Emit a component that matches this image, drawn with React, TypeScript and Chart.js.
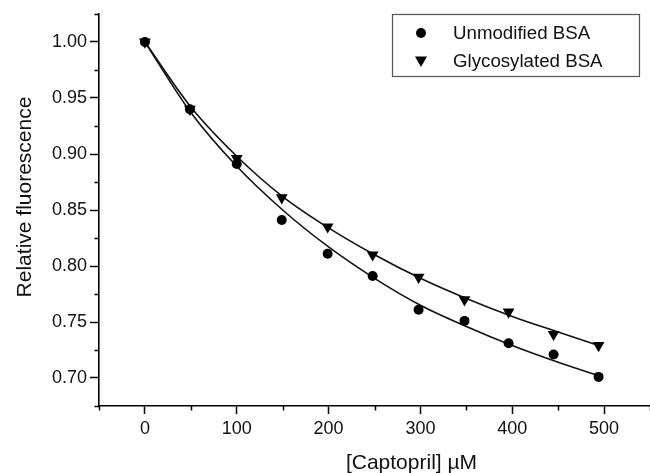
import React, { useEffect, useRef } from 'react';
import { Chart, registerables } from 'chart.js';

Chart.register(...registerables);

// ---- data ----
const seriesLabels = ['Unmodified BSA', 'Glycosylated BSA'];
const captoprilConc = [0, 49, 100, 149, 199, 248, 298, 348, 396, 445, 494];
const fluorUnmodified = [1.0, 0.94, 0.891, 0.841, 0.811, 0.791, 0.761, 0.751, 0.731, 0.721, 0.701];
const fluorGlycosylated = [1.0, 0.94, 0.896, 0.861, 0.835, 0.81, 0.79, 0.77, 0.759, 0.739, 0.729];
// fitted curves
const fitConc = [0, 50, 100, 150, 200, 250, 300, 350, 400, 450, 494];
const fitUnmodified = [1.0, 0.937, 0.889, 0.85, 0.817, 0.789, 0.765, 0.746, 0.729, 0.714, 0.702];
const fitGlycosylated = [1.0, 0.942, 0.898, 0.862, 0.834, 0.81, 0.789, 0.771, 0.755, 0.741, 0.729];

const xTitle = '[Captopril] µM';
const yTitle = 'Relative fluorescence';
const xMin = -50;
const xMax = 550;
const xStep = 50;
const yMin = 0.675;
const yMax = 1.025;
const yStep = 0.025;

const FONT = "'Liberation Sans', Arial, Helvetica, sans-serif";

const isMajorX = (v: number) => Math.round(v) % 100 === 0;
const isMajorY = (v: number) => Math.round(v * 1000) % 50 === 0;

const decorPlugin = {
  id: 'decor',
  afterDraw(chart: any) {
    const ctx = chart.ctx as CanvasRenderingContext2D;
    const area = chart.chartArea;
    const xs = chart.scales.x;
    const ys = chart.scales.y;
    ctx.save();
    // minor ticks
    ctx.strokeStyle = '#000';
    ctx.lineWidth = 1.5;
    ctx.beginPath();
    xs.ticks.forEach((t: any) => {
      if (!isMajorX(t.value)) {
        const px = Math.round(xs.getPixelForValue(t.value)) + 0.5;
        ctx.moveTo(px, area.bottom);
        ctx.lineTo(px, area.bottom + 4.5);
      }
    });
    ys.ticks.forEach((t: any) => {
      if (!isMajorY(t.value)) {
        const py = Math.round(ys.getPixelForValue(t.value)) + 0.5;
        ctx.moveTo(area.left, py);
        ctx.lineTo(area.left - 4.5, py);
      }
    });
    ctx.stroke();

    // axis titles
    ctx.fillStyle = '#111';
    ctx.font = `21px ${FONT}`;
    ctx.textAlign = 'center';
    ctx.textBaseline = 'middle';
    ctx.fillText(xTitle, (area.left + area.right) / 2 + 37, 463);
    ctx.save();
    ctx.translate(25, (area.top + area.bottom) / 2 - 13);
    ctx.rotate(-Math.PI / 2);
    ctx.fillText(yTitle, 0, 0);
    ctx.restore();

    // legend
    const bx = 392.5, by = 14.5, bw = 247, bh = 62;
    ctx.strokeStyle = '#555';
    ctx.lineWidth = 1.2;
    ctx.strokeRect(bx, by, bw, bh);
    ctx.fillStyle = '#000';
    ctx.beginPath();
    ctx.arc(421, 33, 5, 0, Math.PI * 2);
    ctx.fill();
    ctx.beginPath();
    ctx.moveTo(415, 56.5);
    ctx.lineTo(427, 56.5);
    ctx.lineTo(421, 67);
    ctx.closePath();
    ctx.fill();
    ctx.font = `18.7px ${FONT}`;
    ctx.textAlign = 'left';
    ctx.fillStyle = '#111';
    ctx.fillText(seriesLabels[0], 453, 34);
    ctx.fillText(seriesLabels[1], 453, 62);
    ctx.restore();
  },
};

export default function App() {
  const ref = useRef<HTMLCanvasElement | null>(null);

  useEffect(() => {
    if (!ref.current) return;
    const pts = (xs: number[], ys: number[]) => xs.map((x, i) => ({ x, y: ys[i] }));
    const chart = new Chart(ref.current, {
      type: 'scatter',
      data: {
        datasets: [
          {
            label: seriesLabels[0],
            data: pts(captoprilConc, fluorUnmodified),
            pointStyle: 'circle',
            pointRadius: 5,
            backgroundColor: '#000',
            borderColor: '#000',
            borderWidth: 0,
            showLine: false,
          },
          {
            label: seriesLabels[1],
            data: pts(captoprilConc, fluorGlycosylated),
            pointStyle: 'triangle',
            rotation: 180,
            pointRadius: 6.8,
            backgroundColor: '#000',
            borderColor: '#000',
            borderWidth: 0,
            showLine: false,
          },
          {
            label: seriesLabels[0] + ' fit',
            type: 'line',
            data: pts(fitConc, fitUnmodified),
            borderColor: '#111',
            borderWidth: 1.6,
            pointRadius: 0,
            fill: false,
            cubicInterpolationMode: 'monotone',
          } as any,
          {
            label: seriesLabels[1] + ' fit',
            type: 'line',
            data: pts(fitConc, fitGlycosylated),
            borderColor: '#111',
            borderWidth: 1.6,
            pointRadius: 0,
            fill: false,
            cubicInterpolationMode: 'monotone',
          } as any,
        ],
      },
      options: {
        animation: false,
        responsive: false,
        devicePixelRatio: 1,
        layout: { autoPadding: false, padding: { top: 14, right: 0, left: 0, bottom: 0 } },
        plugins: {
          legend: { display: false },
          tooltip: { enabled: false },
        },
        scales: {
          x: {
            type: 'linear',
            min: xMin,
            max: xMax,
            afterFit: (s: any) => {
              s.height = 67;
              s.paddingLeft = 0;
              s.paddingRight = 0;
            },
            ticks: {
              stepSize: xStep,
              autoSkip: false,
              maxRotation: 0,
              padding: 4,
              color: '#111',
              font: { family: FONT, size: 18 },
              callback: (v: any) => (isMajorX(Number(v)) ? String(v) : ''),
            },
            grid: {
              drawOnChartArea: false,
              drawTicks: true,
              tickLength: 8,
              tickWidth: 1.5,
              tickColor: (c: any) => (c.tick && isMajorX(c.tick.value) ? '#000' : 'rgba(0,0,0,0)'),
            },
            border: { display: true, color: '#000', width: 1.6 },
            title: { display: false },
          },
          y: {
            type: 'linear',
            min: yMin,
            max: yMax,
            afterFit: (s: any) => {
              s.width = 99;
              s.paddingTop = 0;
              s.paddingBottom = 0;
            },
            ticks: {
              stepSize: yStep,
              autoSkip: false,
              padding: 3,
              color: '#111',
              font: { family: FONT, size: 18 },
              callback: (v: any) => (isMajorY(Number(v)) ? Number(v).toFixed(2) : ''),
            },
            grid: {
              drawOnChartArea: false,
              drawTicks: true,
              tickLength: 9,
              tickWidth: 1.5,
              tickColor: (c: any) => (c.tick && isMajorY(c.tick.value) ? '#000' : 'rgba(0,0,0,0)'),
            },
            border: { display: true, color: '#000', width: 1.6 },
            title: { display: false },
          },
        },
      },
      plugins: [decorPlugin],
    });
    return () => chart.destroy();
  }, []);

  return (
    <div style={{ position: 'fixed', left: 0, top: 0, width: 650, height: 473, background: '#fff' }}>
      <canvas ref={ref} width={650} height={473} />
    </div>
  );
}
